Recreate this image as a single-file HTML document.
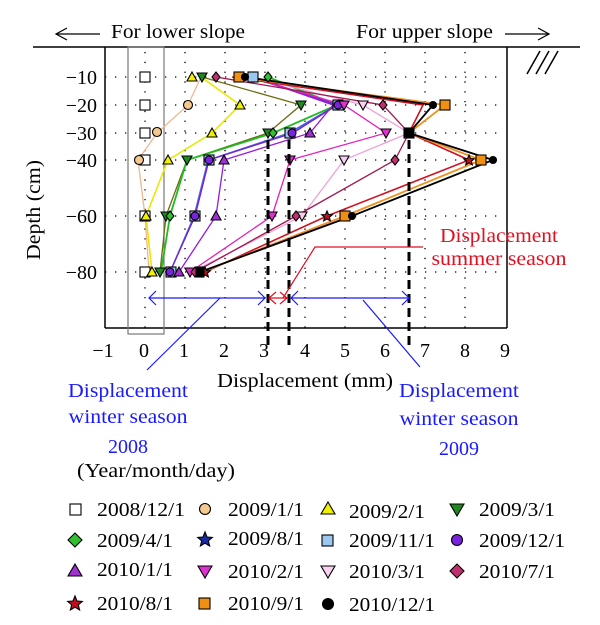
<!DOCTYPE html>
<html><head><meta charset="utf-8"><style>
body{margin:0;background:#fff}
svg text{font-family:"Liberation Serif",serif}
</style></head><body>
<svg width="600" height="620" viewBox="0 0 600 620" xmlns="http://www.w3.org/2000/svg">
<line x1="33" y1="47" x2="580" y2="47" stroke="#000" stroke-width="1.5"/>
<g fill="none" stroke="#000" stroke-width="1.2">
<line x1="56" y1="34" x2="100" y2="34"/><path d="M67,28 L56,34 L67,40"/>
<line x1="505" y1="34" x2="549" y2="34"/><path d="M538,28 L549,34 L538,40"/>
</g>
<text x="111" y="38" font-size="20" textLength="134" lengthAdjust="spacingAndGlyphs">For lower slope</text>
<text x="356" y="38" font-size="20" textLength="137" lengthAdjust="spacingAndGlyphs">For upper slope</text>
<g stroke="#000" stroke-width="1.5"><line x1="527" y1="74" x2="540" y2="51"/><line x1="536" y1="74" x2="549" y2="51"/><line x1="545" y1="74" x2="558" y2="51"/></g>
<g stroke="#000" stroke-width="1.3" stroke-dasharray="1.3,8.7">
<line x1="105" y1="77" x2="505" y2="77"/><line x1="105" y1="105" x2="505" y2="105"/><line x1="105" y1="133" x2="505" y2="133"/><line x1="105" y1="160" x2="505" y2="160"/><line x1="105" y1="216" x2="505" y2="216"/><line x1="105" y1="272" x2="505" y2="272"/>
</g>
<g stroke="#000" stroke-width="1.3" stroke-dasharray="1.3,8.5">
<line x1="185" y1="52" x2="185" y2="328"/><line x1="225" y1="52" x2="225" y2="328"/><line x1="265" y1="52" x2="265" y2="328"/><line x1="305" y1="52" x2="305" y2="328"/><line x1="345" y1="52" x2="345" y2="328"/><line x1="385" y1="52" x2="385" y2="328"/><line x1="425" y1="52" x2="425" y2="328"/><line x1="465" y1="52" x2="465" y2="328"/><line x1="145" y1="52" x2="145" y2="328"/>
</g>
<line x1="105" y1="47" x2="105" y2="328" stroke="#000" stroke-width="1.5"/>
<line x1="507" y1="47" x2="507" y2="328" stroke="#000" stroke-width="1.5"/>
<line x1="105" y1="328" x2="507" y2="328" stroke="#000" stroke-width="1.5"/>
<rect x="128" y="47" width="36" height="287" fill="none" stroke="#777" stroke-width="1.2"/>
<g font-size="20" text-anchor="end">
<text x="97" y="84">−10</text><text x="97" y="112">−20</text><text x="97" y="140">−30</text><text x="97" y="167">−40</text><text x="97" y="223">−60</text><text x="97" y="279">−80</text>
</g>
<g font-size="20" text-anchor="middle">
<text x="103" y="357">−1</text><text x="144" y="357">0</text><text x="184" y="357">1</text><text x="224" y="357">2</text><text x="264" y="357">3</text><text x="305" y="357">4</text><text x="345" y="357">5</text><text x="385" y="357">6</text><text x="425" y="357">7</text><text x="465" y="357">8</text><text x="505" y="357">9</text>
</g>
<text x="217" y="387" font-size="20" textLength="176" lengthAdjust="spacingAndGlyphs">Displacement (mm)</text>
<text transform="translate(40,210) rotate(-90)" font-size="20" text-anchor="middle" textLength="100" lengthAdjust="spacingAndGlyphs">Depth (cm)</text>
<g fill="none" stroke-width="1.3">
<polyline stroke="#f0b890" points="201,77 188,105 157,133 138,160 145,216 149,272"/>
<polyline stroke="#e8e800" stroke-width="1.6" points="201,77 240,105 212,133 168,160 146,216 152,272"/>
<polyline stroke="#6b6b10" points="202,77 301,105 268,133 187,160 166,216 160,272"/>
<polyline stroke="#22bb22" stroke-width="1.8" points="268,77 337,105 273,133 187,160 170,216 161,272"/>
<polyline stroke="#2a40d8" points="250,77 337,105 289,133 209,160 195,216 170,272"/>
<polyline stroke="#4a6ae0" points="253,77 338,105 290,133 208,160 194,216 170,272"/>
<polyline stroke="#7a22cc" points="253,77 337,105 293,133 209,160 195,216 170,272"/>
<polyline stroke="#9a1ad8" points="253,77 333,105 310,133 224,160 216,216 179,272"/>
<polyline stroke="#e020c0" points="249,77 344,105 386,133 290,160 272,216 190,272"/>
<polyline stroke="#f0a0d8" points="253,77 363,105 409,133 344,160 302,216 192,272"/>
<polyline stroke="#a01850" points="216,77 383,105 409,133 395,160 296,216 195,272"/>
<polyline stroke="#d01020" stroke-width="1.6" points="232,77 423,105 409,133 469,160 327,216 205,272"/>
<polyline stroke="#f09020" stroke-width="1.8" points="238,77 445,105 409,133 481,160 345,216 202,272"/>
<polyline stroke="#000" stroke-width="1.8" points="245,77 433,105 409,133 493,160 352,216 200,272"/>
</g>
<g stroke="#000" stroke-width="1.1">
<g fill="#fff"><rect x="140" y="72" width="10" height="10"/><rect x="140" y="100" width="10" height="10"/><rect x="140" y="128" width="10" height="10"/><rect x="140" y="155" width="10" height="10"/><rect x="140" y="211" width="10" height="10"/><rect x="140" y="267" width="10" height="10"/></g>
<g fill="#f5c890"><circle cx="188" cy="105" r="4.5"/><circle cx="157" cy="132" r="4.5"/><circle cx="139" cy="160" r="4.5"/></g>
<g fill="#f0f000"><path d="M192,72 l5,9 h-10z"/><path d="M240,100 l5,9 h-10z"/><path d="M212,128 l5,9 h-10z"/><path d="M168,155 l5,9 h-10z"/><path d="M146,211 l5,9 h-10z"/><path d="M152,267 l5,9 h-10z"/></g>
<g fill="#1e8a1e"><path d="M301,110 l5,-9 h-10z"/><path d="M268,138 l5,-9 h-10z"/><path d="M187,165 l5,-9 h-10z"/><path d="M166,221 l5,-9 h-10z"/><path d="M160,277 l5,-9 h-10z"/><path d="M202,82 l5,-9 h-10z"/></g>
<g fill="#30c030"><path d="M268,72 l4,5 l-4,5 l-4,-5z"/><path d="M273,128 l4,5 l-4,5 l-4,-5z"/><path d="M170,211 l4,5 l-4,5 l-4,-5z"/></g>
<g fill="#9cc8f0"><rect x="248" y="72" width="10" height="10"/><rect x="333" y="100" width="10" height="10"/><rect x="285" y="128" width="10" height="10"/><rect x="204" y="155" width="10" height="10"/><rect x="190" y="211" width="10" height="10"/><rect x="166" y="267" width="10" height="10"/></g>
<g fill="#7a22dd"><circle cx="338" cy="105" r="4"/><circle cx="292" cy="133" r="4"/><circle cx="209" cy="160" r="4"/><circle cx="195" cy="216" r="4"/><circle cx="170" cy="272" r="4"/></g>
<g fill="#a030d0"><path d="M310,128 l5,9 h-10z"/><path d="M224,155 l5,9 h-10z"/><path d="M216,211 l5,9 h-10z"/><path d="M179,267 l5,9 h-10z"/></g>
<g fill="#e030d0"><path d="M344,110 l5,-9 h-10z"/><path d="M386,138 l5,-9 h-10z"/><path d="M290,165 l5,-9 h-10z"/><path d="M272,221 l5,-9 h-10z"/><path d="M190,277 l5,-9 h-10z"/></g>
<g fill="#f8d0f0"><path d="M363,110 l5,-9 h-10z"/><path d="M344,165 l5,-9 h-10z"/><path d="M302,221 l5,-9 h-10z"/></g>
<g fill="#c03070"><path d="M216,72 l4,5 l-4,5 l-4,-5z"/><path d="M383,100 l4,5 l-4,5 l-4,-5z"/><path d="M395,155 l4,5 l-4,5 l-4,-5z"/><path d="M296,211 l4,5 l-4,5 l-4,-5z"/><path d="M195,267 l4,5 l-4,5 l-4,-5z"/></g>
<g fill="#c01020"><path d="M327,211 l1.5,3.5 3.8,.3 -2.9,2.4 .9,3.7 -3.3,-2 -3.3,2 .9,-3.7 -2.9,-2.4 3.8,-.3z"/><path d="M469,155 l1.5,3.5 3.8,.3 -2.9,2.4 .9,3.7 -3.3,-2 -3.3,2 .9,-3.7 -2.9,-2.4 3.8,-.3z"/><path d="M205,267 l1.5,3.5 3.8,.3 -2.9,2.4 .9,3.7 -3.3,-2 -3.3,2 .9,-3.7 -2.9,-2.4 3.8,-.3z"/></g>
<g fill="#f09010"><rect x="440" y="100" width="10" height="10"/><rect x="476" y="155" width="10" height="10"/><rect x="340" y="211" width="10" height="10"/><rect x="234" y="72" width="10" height="10"/></g>
<g fill="#000"><circle cx="433" cy="105" r="3.5"/><circle cx="493" cy="160" r="3.5"/><circle cx="352" cy="216" r="3.5"/><circle cx="245" cy="77" r="3.5"/><rect x="404" y="128" width="10" height="10"/><rect x="196" y="267" width="8" height="10"/></g>
</g>
<g stroke="#000" stroke-width="3" stroke-dasharray="9,5">
<line x1="268" y1="140" x2="268" y2="345"/><line x1="289" y1="140" x2="289" y2="345"/><line x1="409" y1="140" x2="409" y2="345"/>
</g>
<g fill="none" stroke-width="1.2">
<g stroke="#1a1aff">
<line x1="149" y1="298" x2="265" y2="298"/><path d="M156,291 L149,298 L156,305"/><path d="M258,291 L265,298 L258,305"/>
<line x1="291" y1="298" x2="409" y2="298"/><path d="M298,291 L291,298 L298,305"/><path d="M402,291 L409,298 L402,305"/>
<line x1="220" y1="298" x2="147" y2="370"/>
<line x1="363" y1="300" x2="420" y2="367"/>
</g>
<g stroke="#e01020">
<line x1="269" y1="298" x2="287" y2="298"/><path d="M276,292 L269,298 L276,304"/><path d="M280,292 L287,298 L280,304"/>
<polyline points="283,298 315,247 423,247"/>
</g>
</g>
<g font-size="20" text-anchor="middle">
<text x="499" y="242" fill="#e01020" textLength="118" lengthAdjust="spacingAndGlyphs">Displacement</text><text x="499" y="265" fill="#e01020" textLength="135" lengthAdjust="spacingAndGlyphs">summer season</text>
<text x="128" y="397" fill="#1a1aff" textLength="120" lengthAdjust="spacingAndGlyphs">Displacement</text><text x="128" y="423" fill="#1a1aff" textLength="119" lengthAdjust="spacingAndGlyphs">winter season</text><text x="128" y="453" fill="#1a1aff">2008</text>
<text x="459" y="397" fill="#1a1aff" textLength="120" lengthAdjust="spacingAndGlyphs">Displacement</text><text x="459" y="425" fill="#1a1aff" textLength="119" lengthAdjust="spacingAndGlyphs">winter season</text><text x="459" y="455" fill="#1a1aff">2009</text>
<text x="156" y="477" textLength="158" lengthAdjust="spacingAndGlyphs">(Year/month/day)</text>
</g>
<g font-size="20" stroke="#000" stroke-width="1.1">
<rect x="70" y="504" width="11" height="11" fill="#fff"/><text x="97" y="516" stroke="none" textLength="88" lengthAdjust="spacingAndGlyphs">2008/12/1</text>
<circle cx="205" cy="509" r="5.5" fill="#f5c890"/><text x="228" y="516" stroke="none" textLength="76" lengthAdjust="spacingAndGlyphs">2009/1/1</text>
<path d="M328,502 l7,12 h-14z" fill="#f0f000"/><text x="349" y="518" stroke="none" textLength="76" lengthAdjust="spacingAndGlyphs">2009/2/1</text>
<path d="M457,516 l7,-12 h-14z" fill="#1e8a1e"/><text x="479" y="516" stroke="none" textLength="76" lengthAdjust="spacingAndGlyphs">2009/3/1</text>
<path d="M75,533 l7,7 l-7,7 l-7,-7z" fill="#30c030"/><text x="97" y="547" stroke="none" textLength="76" lengthAdjust="spacingAndGlyphs">2009/4/1</text>
<path d="M205,532 l2,5 5.3,.4 -4,3.4 1.3,5.2 -4.6,-2.8 -4.6,2.8 1.3,-5.2 -4,-3.4 5.3,-.4z" fill="#1a2aa0"/><text x="228" y="545" stroke="none" textLength="76" lengthAdjust="spacingAndGlyphs">2009/8/1</text>
<rect x="322" y="535" width="11" height="11" fill="#9cc8f0"/><text x="349" y="547" stroke="none" textLength="86" lengthAdjust="spacingAndGlyphs">2009/11/1</text>
<circle cx="457" cy="540" r="5.5" fill="#7a22dd"/><text x="479" y="547" stroke="none" textLength="86" lengthAdjust="spacingAndGlyphs">2009/12/1</text>
<path d="M75,564 l7,12 h-14z" fill="#a030d0"/><text x="97" y="576" stroke="none" textLength="76" lengthAdjust="spacingAndGlyphs">2010/1/1</text>
<path d="M205,578 l7,-12 h-14z" fill="#e030d0"/><text x="228" y="578" stroke="none" textLength="76" lengthAdjust="spacingAndGlyphs">2010/2/1</text>
<path d="M328,578 l7,-12 h-14z" fill="#f8d0f0"/><text x="349" y="578" stroke="none" textLength="76" lengthAdjust="spacingAndGlyphs">2010/3/1</text>
<path d="M457,564 l7,7 l-7,7 l-7,-7z" fill="#c03070"/><text x="479" y="578" stroke="none" textLength="76" lengthAdjust="spacingAndGlyphs">2010/7/1</text>
<path d="M75,596 l2,5 5.3,.4 -4,3.4 1.3,5.2 -4.6,-2.8 -4.6,2.8 1.3,-5.2 -4,-3.4 5.3,-.4z" fill="#c01020"/><text x="97" y="610" stroke="none" textLength="76" lengthAdjust="spacingAndGlyphs">2010/8/1</text>
<rect x="199" y="598" width="11" height="11" fill="#f09010"/><text x="228" y="610" stroke="none" textLength="76" lengthAdjust="spacingAndGlyphs">2010/9/1</text>
<circle cx="328" cy="604" r="5.5" fill="#000"/><text x="349" y="611" stroke="none" textLength="86" lengthAdjust="spacingAndGlyphs">2010/12/1</text>
</g>
</svg>
</body></html>
